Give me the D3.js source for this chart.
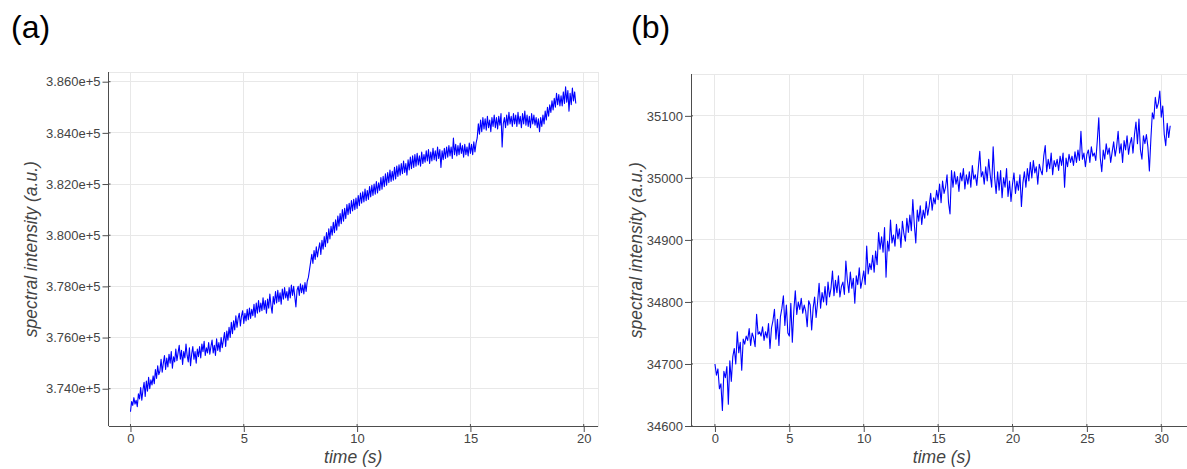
<!DOCTYPE html>
<html>
<head>
<meta charset="utf-8">
<script src="https://cdn.jsdelivr.net/npm/d3@7"></script>
<style>
  html, body { margin: 0; padding: 0; background: #fff; }
  svg { display: block; font-family: "Liberation Sans", Arial, Helvetica, sans-serif; }
</style>
</head>
<body>
<svg id="chart" width="1187" height="469"></svg>
<script>
// Panel (a): spectral intensity sampled every 0.05 s from 0 to 19.65 s (one row per second)
const sampleStepA = 0.05;
const intensityA = [
  373100, 373500, 373350, 373650, 373400, 373550, 373300, 373800, 373600, 374050, 373550, 373950, 374250, 373700, 374300, 373900, 374450, 374000, 374350, 374150,
  374500, 374200, 374750, 374400, 374900, 374550, 374700, 375150, 374650, 375000, 375300, 374750, 375200, 374850, 375350, 375000, 375450, 374800, 375250, 375050,
  375550, 375100, 375400, 375700, 375150, 375500, 374950, 375450, 375200, 375750, 375300, 375050, 375600, 374900, 375350, 375650, 375150, 375450, 375000, 375550,
  375250, 375650, 375200, 375750, 375450, 375850, 375300, 375600, 375400, 375800, 375350, 375650, 375900, 375400, 375700, 375300, 375950, 375500, 375800, 375450,
  376000, 375600, 375900, 376200, 375650, 376250, 375900, 376400, 376000, 376600, 376150, 376650, 376300, 376850, 376400, 376750, 376950, 376450, 376850, 377050,
  376550, 376950, 376650, 377100, 376700, 377150, 376750, 377100, 376850, 377300, 376800, 377350, 376950, 377450, 377000, 377350, 377050, 377550, 377100, 377450,
  376950, 377500, 377150, 377700, 377250, 376950, 377600, 377300, 377800, 377350, 377850, 377400, 377750, 377300, 377900, 377500, 377950, 377550, 377800, 377450,
  377950, 377550, 378050, 377650, 378000, 377600, 377200, 377850, 378000, 377650, 378100, 377750, 378050, 377700, 378150, 377800, 378200, 378350, 378650, 378950,
  379250, 378900, 379400, 379050, 379550, 379150, 379450, 379700, 379250, 379800, 379450, 379950, 379550, 380100, 379700, 380250, 379850, 380350, 380000, 380500,
  380100, 380600, 380200, 380750, 380350, 380850, 380450, 381000, 380550, 381050, 380650, 381200, 380800, 381250, 380850, 381350, 380950, 381400, 381000, 381450,
  381050, 381550, 381150, 381650, 381250, 381700, 381300, 381800, 381350, 381750, 381400, 381900, 381500, 381950, 381550, 382000, 381600, 382100, 381650, 382050,
  381750, 382250, 381800, 382300, 381900, 382400, 381950, 382450, 382050, 382550, 382100, 382500, 382150, 382650, 382200, 382700, 382300, 382750, 382350, 382800,
  382400, 382900, 382450, 382800, 382350, 382950, 382550, 383050, 382600, 383100, 382650, 383150, 382700, 383200, 382750, 383100, 382700, 383250, 382800, 383150,
  382850, 383300, 382900, 383350, 382800, 383250, 382900, 383400, 382950, 383300, 382900, 383450, 383000, 383350, 382650, 383300, 382950, 383400, 383000, 383450,
  383050, 383500, 383100, 383450, 383000, 383800, 383150, 383550, 383100, 383500, 383150, 383600, 383200, 383500, 383050, 383550, 383150, 383450, 383100, 383600,
  383200, 383550, 383150, 383650, 383250, 383600, 383800, 384350, 383950, 384500, 384050, 384600, 384150, 384550, 384100, 384650, 384200, 384500, 384050, 384600,
  384250, 384700, 384200, 384600, 384150, 384650, 384300, 384750, 383450, 384350, 384600, 384200, 384700, 384300, 384800, 384350, 384650, 384250, 384750, 384350,
  384700, 384250, 384800, 384350, 384650, 384200, 384750, 384350, 384850, 384300, 384700, 384250, 384650, 384200, 384750, 384350, 384700, 384300, 384600, 384200,
  384550, 384050, 384600, 384250, 384700, 384350, 384850, 384500, 385000, 384650, 385100, 384800, 385250, 384900, 385350, 385000, 385550, 385100, 385500, 385050,
  385450, 385050, 385600, 385150, 385800, 385200, 385650, 384850, 385550, 385100, 385750, 385250, 385600, 385150
];

// Panel (b): spectral intensity sampled every 0.1 s from 0 to 30.6 s (one row per second)
const sampleStepB = 0.1;
const intensityB = [
  34700, 34682, 34692, 34660, 34668, 34625, 34688, 34678, 34696, 34635,
  34705, 34672, 34712, 34725, 34700, 34752, 34718, 34735, 34690, 34740,
  34732, 34745, 34738, 34757, 34730, 34750, 34742, 34728, 34780, 34748,
  34752, 34745, 34760, 34738, 34752, 34742, 34765, 34725, 34758, 34770,
  34788, 34740, 34772, 34730, 34776, 34790, 34810, 34762, 34795, 34750,
  34745, 34798, 34735, 34785, 34818, 34780, 34800, 34788, 34806, 34782,
  34795, 34785, 34760, 34802, 34795, 34755, 34790, 34808, 34775, 34800,
  34830, 34790, 34815, 34800, 34825, 34795, 34832, 34808, 34822, 34850,
  34810, 34835, 34815, 34842, 34808, 34825, 34832, 34812, 34866, 34835,
  34815, 34848, 34822, 34838, 34798, 34842, 34828, 34855, 34822, 34835,
  34850, 34828, 34890, 34845, 34862, 34852, 34875, 34848, 34882, 34860,
  34912, 34885, 34905, 34880, 34920, 34840, 34898, 34882, 34932, 34895,
  34908, 34890, 34925, 34902, 34918, 34888, 34930, 34910, 34898, 34935,
  34912, 34940, 34915, 34965, 34925, 34895, 34948, 34930, 34955, 34925,
  34948, 34935, 34962, 34940, 34955, 34975, 34948, 34968, 34958, 34980,
  34965, 34990, 34960, 34995, 34975, 34985, 35005, 34960, 34942, 35012,
  34985, 35010, 34990, 35002, 34978, 35008, 34995, 35015, 34982, 35005,
  34990, 35010, 34985, 35020, 34998, 35005, 34988, 35015, 35043, 35002,
  35010, 34990, 35018, 34995, 35030, 35005, 34985, 35050, 35000, 34975,
  35010, 34980, 35012, 34968, 35000, 34985, 35015, 34970, 34995, 34962,
  34990, 35008, 34975, 34995, 34980, 35005, 34954, 34992, 35010, 34985,
  35015, 34995, 35025, 35000, 35028, 35008, 35018, 34990, 35022, 35012,
  35005, 35035, 35052, 35010, 35030, 35015, 35040, 35005, 35028, 35018,
  35030, 35012, 35035, 35020, 35040, 34985, 35032, 35018, 35038, 35025,
  35035, 35020, 35042, 35025, 35045, 35028, 35075, 35030, 35040, 35018,
  35038, 35045, 35025, 35050, 35035, 35040, 35028, 35060, 35097, 35032,
  35010, 35045, 35030, 35055, 35038, 35048, 35025, 35042, 35058, 35035,
  35050, 35075, 35040, 35055, 35025, 35060, 35045, 35068, 35038, 35055,
  35065, 35040, 35070, 35090, 35055, 35095, 35045, 35030, 35068, 35055,
  35070, 35050, 35011, 35062, 35105, 35095, 35130, 35112, 35120, 35140,
  35098, 35116, 35070, 35052, 35088, 35065, 35084
];

// Tick values
const xTicksA = [0, 5, 10, 15, 20];
const yTicksA = [374000, 376000, 378000, 380000, 382000, 384000, 386000];
const xTicksB = [0, 5, 10, 15, 20, 25, 30];
const yTicksB = [34600, 34700, 34800, 34900, 35000, 35100];

const panelLabels = ["(a)", "(b)"];
const xTitle = "time (s)";
const yTitle = "spectral intensity (a.u.)";

const svg = d3.select("#chart");
const axisColor = "#4d4d4d";
const labelColor = "#444";
const gridColor = "#e8e8e8";

function minorValues(domain, step) {
  const out = [];
  const start = Math.ceil(domain[0] / step);
  const end = Math.floor(domain[1] / step);
  for (let k = start; k <= end; k++) out.push(+(k * step).toFixed(6));
  return out;
}

function drawPanel(cfg) {
  const { left, right, top, bottom } = cfg.frame;
  const x = d3.scaleLinear().domain(cfg.xDomain).range([left, right]);
  const y = d3.scaleLinear().domain(cfg.yDomain).range([bottom, top]);
  const g = svg.append("g");

  // grid
  g.append("g").selectAll("line.gx").data(cfg.xTicks).join("line")
    .attr("x1", d => x(d)).attr("x2", d => x(d))
    .attr("y1", top).attr("y2", bottom)
    .attr("stroke", gridColor).attr("stroke-width", 1).attr("shape-rendering", "crispEdges");
  g.append("g").selectAll("line.gy").data(cfg.yTicks).join("line")
    .attr("x1", left).attr("x2", right)
    .attr("y1", d => y(d)).attr("y2", d => y(d))
    .attr("stroke", gridColor).attr("stroke-width", 1).attr("shape-rendering", "crispEdges");

  // frame outline
  g.append("rect")
    .attr("x", left).attr("y", top)
    .attr("width", right - left).attr("height", bottom - top)
    .attr("fill", "none").attr("stroke", gridColor).attr("shape-rendering", "crispEdges");

  // data line
  const clipId = "clip-" + cfg.name;
  svg.append("clipPath").attr("id", clipId)
    .append("rect").attr("x", left).attr("y", top)
    .attr("width", right - left).attr("height", bottom - top);
  const pts = cfg.values.map((v, i) => [i * cfg.step, v]);
  g.append("path")
    .datum(pts)
    .attr("clip-path", `url(#${clipId})`)
    .attr("fill", "none")
    .attr("stroke", "#0000ff")
    .attr("stroke-width", 1.1)
    .attr("stroke-linejoin", "round")
    .attr("d", d3.line().x(d => x(d[0])).y(d => y(d[1])));

  // x axis
  const xAxisG = g.append("g").attr("transform", `translate(0,${bottom})`);
  xAxisG.call(d3.axisBottom(x).tickValues(minorValues(cfg.xDomain, cfg.xMinor))
    .tickSize(4).tickSizeOuter(0).tickFormat(""));
  xAxisG.call(d3.axisBottom(x).tickValues(cfg.xTicks)
    .tickSize(6).tickSizeOuter(0).tickPadding(2).tickFormat(d3.format("d")));
  xAxisG.selectAll("path.domain").remove();
  xAxisG.append("line").attr("x1", left).attr("x2", right).attr("y1", 0).attr("y2", 0)
    .attr("stroke", axisColor).attr("shape-rendering", "crispEdges");
  xAxisG.selectAll("line").attr("stroke", axisColor);
  xAxisG.selectAll("text").attr("fill", labelColor).attr("font-size", 13)
    .attr("font-family", "Liberation Sans, Arial, sans-serif");
  xAxisG.selectAll("line.inner").data(cfg.xTicks).join("line")
    .attr("x1", d => x(d)).attr("x2", d => x(d)).attr("y1", 0).attr("y2", -2)
    .attr("stroke", axisColor);

  // y axis
  const yAxisG = g.append("g").attr("transform", `translate(${left},0)`);
  yAxisG.call(d3.axisLeft(y).tickValues(minorValues(cfg.yDomain, cfg.yMinor))
    .tickSize(4).tickSizeOuter(0).tickFormat(""));
  yAxisG.call(d3.axisLeft(y).tickValues(cfg.yTicks)
    .tickSize(6).tickSizeOuter(0).tickPadding(2).tickFormat(cfg.yFormat));
  yAxisG.selectAll("path.domain").remove();
  yAxisG.append("line").attr("x1", 0).attr("x2", 0).attr("y1", top).attr("y2", bottom)
    .attr("stroke", axisColor).attr("shape-rendering", "crispEdges");
  yAxisG.selectAll("line").attr("stroke", axisColor);
  yAxisG.selectAll("text").attr("fill", labelColor).attr("font-size", 13)
    .attr("font-family", "Liberation Sans, Arial, sans-serif");
  yAxisG.selectAll("line.inner").data(cfg.yTicks).join("line")
    .attr("x1", 0).attr("x2", 2).attr("y1", d => y(d)).attr("y2", d => y(d))
    .attr("stroke", axisColor);

  // axis titles
  g.append("text")
    .attr("x", (left + Math.min(right, 1187)) / 2 + cfg.xTitleShift).attr("y", 463)
    .attr("text-anchor", "middle").attr("font-style", "italic")
    .attr("font-size", 17.5).attr("fill", labelColor).text(xTitle);
  g.append("text")
    .attr("transform", `translate(${cfg.yTitleX},${(top + bottom) / 2}) rotate(-90)`)
    .attr("text-anchor", "middle").attr("font-style", "italic")
    .attr("font-size", 17.5).attr("fill", labelColor).text(yTitle);

  // panel letter
  g.append("text")
    .attr("x", cfg.letterX).attr("y", 38)
    .attr("font-size", 32).attr("fill", "#000").text(cfg.letter);
}

drawPanel({
  name: "a",
  frame: { left: 108.5, right: 598, top: 72.3, bottom: 426 },
  xDomain: [-0.97, 20.63],
  yDomain: [372543, 386367],
  xTicks: xTicksA, yTicks: yTicksA,
  xMinor: 1, yMinor: 400,
  yFormat: d3.format(".3e"),
  values: intensityA, step: sampleStepA,
  xTitleShift: 0,
  yTitleX: 37,
  letter: panelLabels[0], letterX: 11
});

drawPanel({
  name: "b",
  frame: { left: 691, right: 1194, top: 74.3, bottom: 426 },
  xDomain: [-1.61, 32.2],
  yDomain: [34600, 35167],
  xTicks: xTicksB, yTicks: yTicksB,
  xMinor: 1, yMinor: 20,
  yFormat: d3.format("d"),
  values: intensityB, step: sampleStepB,
  xTitleShift: 3,
  yTitleX: 642,
  letter: panelLabels[1], letterX: 631
});
</script>
</body>
</html>
